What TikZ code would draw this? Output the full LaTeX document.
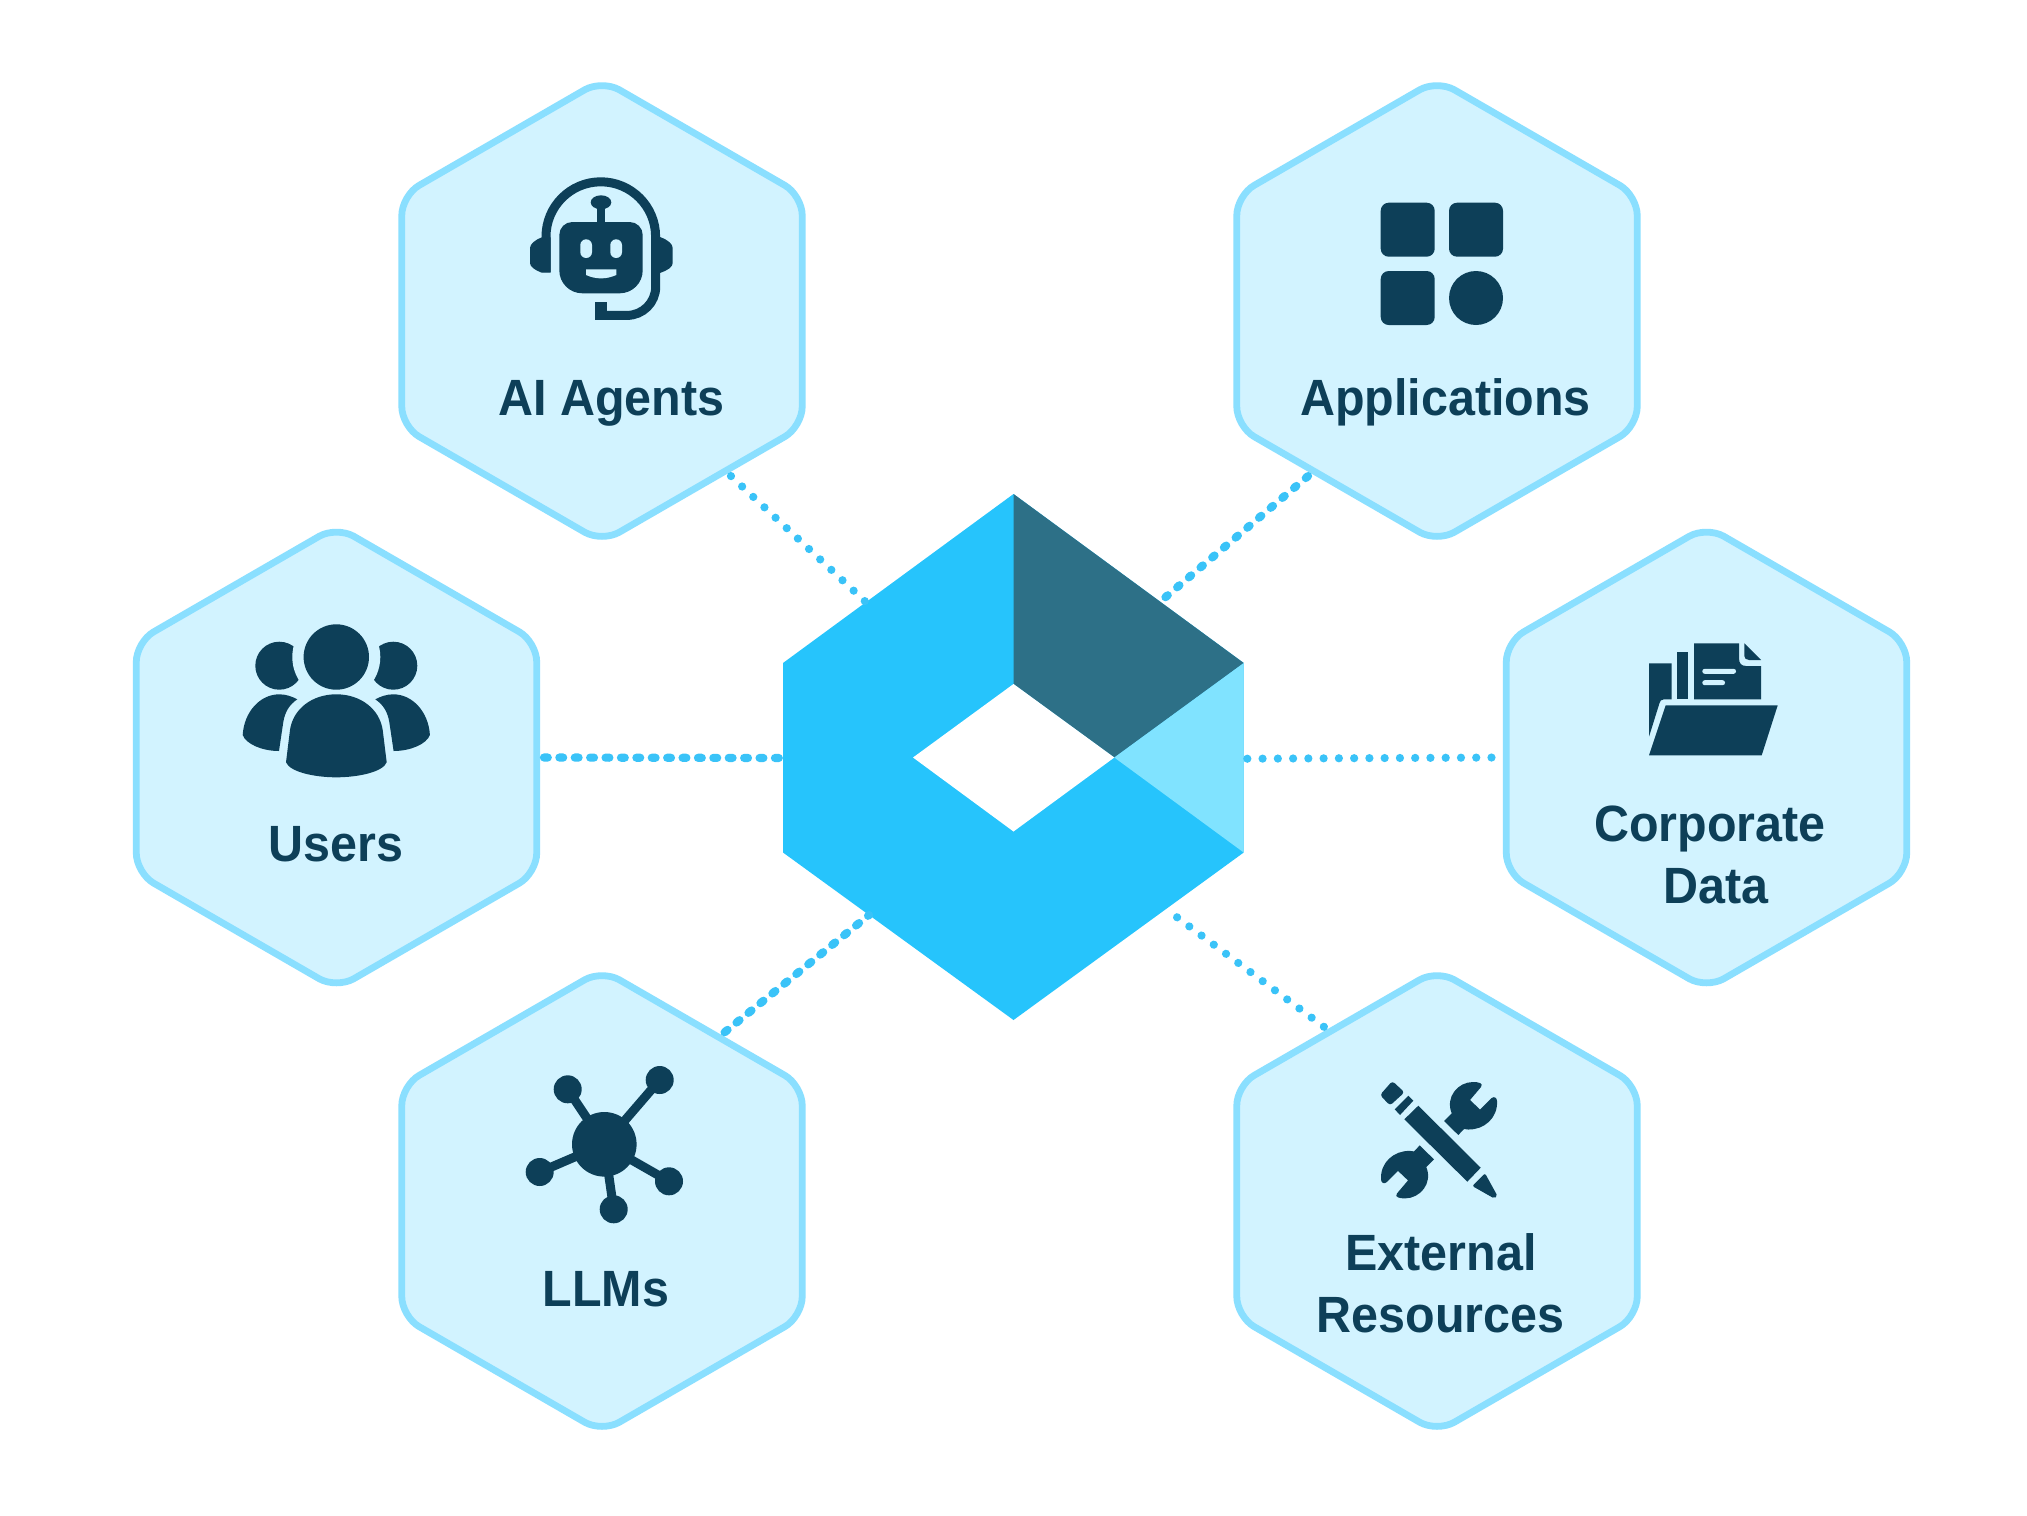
\documentclass[tikz,border=0pt]{standalone}
\usepackage{fontspec}
\setmainfont{Liberation Sans}[BoldFeatures={FakeStretch=0.95}]
\usetikzlibrary{shapes.geometric}
\definecolor{ink}{HTML}{0D3F58}
\definecolor{hexfill}{HTML}{D2F3FF}
\definecolor{hexline}{HTML}{8ADFFF}
\definecolor{corecol}{HTML}{26C4FC}
\definecolor{coredark}{HTML}{2D7087}
\definecolor{corelight}{HTML}{80E3FF}
\definecolor{dotcol}{HTML}{3AC3F8}
\tikzset{
  hexnode/.style={draw=hexline,fill=hexfill,line width=3.4pt,regular polygon,regular polygon sides=6,
    shape border rotate=30,minimum size=231.2pt,inner sep=0pt,outer sep=3.6pt,rounded corners=10pt},
  lbl/.style={anchor=base,inner sep=0pt,text=ink,font=\fontsize{25.5pt}{30pt}\selectfont\bfseries},
  dotline/.style={draw=dotcol,line width=4.1pt,line cap=round,dash pattern=on 0.01pt off 7.62pt},
  dotlinea/.style={dotline,dash pattern=on 1.5pt off 6.17pt},
  dotlineb/.style={dotline,dash pattern=on 1.9pt off 5.8pt},
  ic/.style={fill=ink},
  icb/.style={fill=hexfill},
  icl/.style={draw=ink,line width=4.5pt}
}
\newcommand{\wrenchpath}{(1444,1121) -- (1451.7,1113.3) .. controls (1445,1097) and (1458,1082) .. (1473,1082) .. controls (1478,1082) and (1484,1083) .. (1481,1087) -- (1470,1100) -- (1480,1109.5) -- (1491,1098.5) .. controls (1494,1095.5) and (1497,1098) .. (1497,1101) .. controls (1498,1118) and (1484,1130) .. (1468,1129.5) -- (1464,1129) -- (1458.3,1135) -- cycle}
\begin{document}
\begin{tikzpicture}[x=0.5pt,y=-0.5pt]
\useasboundingbox (0,0) rectangle (2027,1515);
\fill[white] (0,0) rectangle (2027,1515);
% hexagons
\node[hexnode] (ai) at (602,311) {};
\node[hexnode] (apps) at (1437,311) {};
\node[hexnode] (users) at (336.5,757.5) {};
\node[hexnode] (data) at (1706.5,757.5) {};
\node[hexnode] (llm) at (602,1201) {};
\node[hexnode] (ext) at (1437,1201) {};
% core
\fill[corecol] (1013.5,494) -- (1243.7,663) -- (1243.7,852.5) -- (1013.5,1020) -- (783,852.5) -- (783,663) -- cycle;
\fill[coredark] (1013.5,494) -- (1243.7,663) -- (1114.3,757.5) -- (1013.5,684) -- cycle;
\fill[corelight] (1243.7,663) -- (1243.7,852.5) -- (1114.3,757.5) -- cycle;
\fill[white] (1013.5,684) -- (913,757.5) -- (1013.5,831.5) -- (1114.3,757.5) -- cycle;
\coordinate (core-ai) at (866.5,602.7);
\coordinate (core-apps) at (1164.5,598);
\coordinate (core-users) at (780,758);
\coordinate (core-data) at (1247.3,758.7);
\coordinate (core-llm) at (869,915);
\coordinate (core-ext) at (1172,913.5);
% connectors
\draw[dotline] (ai.-52.6) -- (core-ai);
\draw[dotlinea] (apps.-128.95) -- (core-apps);
\draw[dotlineb] (users.east) -- (core-users);
\draw[dotline] (core-data) -- (data.west);
\draw[dotlineb] (llm.54.2) -- (core-llm);
\draw[dotline] (ext.123.6) -- (core-ext);
% labels
\node[lbl] (t-ai) at (611.3,415) {AI Agents};
\node[lbl] (t-apps) at (1445.5,415) {Applications};
\node[lbl] (t-users) at (336,861) {Users};
\node[lbl] (t-corp) at (1710,841) {Corporate};
\node[lbl] (t-data) at (1715.8,903.3) {Data};
\node[lbl] (t-llm) at (606,1306) {LLMs};
\node[lbl] (t-ext) at (1441,1270) {External};
\node[lbl] (t-res) at (1440.5,1332) {Resources};
% robot icon
\draw[icl] (546,272) -- (546,236.6) arc[start angle=180,end angle=360,radius=54.8] -- (655.7,286.7) arc[start angle=0,end angle=90,radius=28.7] -- (600,315.3);
\fill[ic] (595,302.3) rectangle (606.7,320);
\fill[ic] (541.7,237.3) .. controls (535,240) and (530,244) .. (530,248) -- (530,263) .. controls (530,267) and (535,270) .. (541.7,272.7) -- (550.7,272.7) -- (550.7,237.3) -- cycle;
\fill[ic] (658,236.5) -- (660.7,237.3) .. controls (668,240) and (672.7,244) .. (672.7,248) -- (672.7,263) .. controls (672.7,267) and (668,270) .. (660.7,272.7) -- (658,273.5) -- cycle;
\fill[ic] (572.3,222) -- (629.7,222) arc[start angle=-90,end angle=0,radius=13] -- (642.7,270.3) arc[start angle=0,end angle=90,radius=23] -- (582.3,293.3) arc[start angle=90,end angle=180,radius=23] -- (559.3,235) arc[start angle=180,end angle=270,radius=13] -- cycle;
\fill[ic] (597,205) rectangle (605.3,222);
\fill[ic] (601,202.3) ellipse [x radius=10.3,y radius=7];
\fill[icb,rounded corners=2.9pt] (580.3,239.3) rectangle (592,258);
\fill[icb,rounded corners=2.9pt] (610.3,239.3) rectangle (622,258);
\fill[icb] (586,269.3) -- (616.3,269.3) -- (616.3,275) .. controls (606,279.5) and (596,279.5) .. (586,275) -- cycle;
% apps icon
\fill[ic,rounded corners=4pt] (1380.7,202.7) rectangle (1434.7,256.7);
\fill[ic,rounded corners=4pt] (1449,202.7) rectangle (1503,256.7);
\fill[ic,rounded corners=4pt] (1380.7,271) rectangle (1434.7,325);
\fill[ic] (1476,298) circle [radius=27];
% users icon
\fill[ic] (279.3,665.7) circle [radius=24];
\fill[ic] (393.3,665.7) circle [radius=24];
\fill[icb] (336.3,657) circle [radius=44];
\fill[ic] (336.3,657) circle [radius=32.7];
\fill[ic] (286,762.3) -- (290,730) .. controls (293,709) and (312,694.3) .. (336.3,694.3) .. controls (360.6,694.3) and (379.6,709) .. (382.7,730) -- (386.7,762.3) .. controls (383,772) and (358,777.3) .. (336.3,777.3) .. controls (314.6,777.3) and (290,772) .. (286,762.3) -- cycle;
\fill[ic] (242.7,735) .. controls (244,712) and (260,694.3) .. (279.3,694.3) .. controls (286,694.3) and (292,696.5) .. (297.3,699.3) .. controls (289,705) and (285,712) .. (283.3,722) -- (279,751) .. controls (262,751) and (246,744) .. (242.7,735) -- cycle;
\fill[ic] (429.9,735) .. controls (428.6,712) and (412.6,694.3) .. (393.3,694.3) .. controls (386.6,694.3) and (380.6,696.5) .. (375.3,699.3) .. controls (383.6,705) and (387.6,712) .. (389.3,722) -- (393.6,751) .. controls (410.6,751) and (426.6,744) .. (429.9,735) -- cycle;
% folder icon
\fill[ic] (1649,663.3) -- (1671.7,663.3) -- (1671.7,699.3) -- (1664,699.3) .. controls (1661,699.3) and (1660,701) .. (1659.5,703) -- (1649,736.7) -- cycle;
\fill[ic] (1677,652) rectangle (1688.3,699.3);
\fill[ic] (1694,643.3) -- (1739,643.3) -- (1739,658) .. controls (1739,663) and (1741,666) .. (1746,666) -- (1761,666) -- (1761,699.3) -- (1694,699.3) -- cycle;
\fill[ic] (1744.3,643.3) -- (1761,660) -- (1749,660) .. controls (1746,660) and (1744.3,658) .. (1744.3,656) -- cycle;
\fill[icb,rounded corners=1.2pt] (1702.3,668.8) rectangle (1736,673.8);
\fill[icb,rounded corners=1.2pt] (1702.3,680.2) rectangle (1725,685.2);
\fill[ic] (1665.7,705.3) -- (1777.7,705.3) -- (1761.7,755.3) -- (1649,755.3) -- cycle;
% LLM icon
\draw[icl] (604.3,1144.3) -- (567.7,1089.3);
\draw[icl] (604.3,1144.3) -- (659.7,1080);
\draw[icl] (604.3,1144.3) -- (539.7,1172);
\draw[icl] (604.3,1144.3) -- (669,1181.3);
\draw[icl] (604.3,1144.3) -- (613.7,1209.3);
\fill[ic] (604.3,1144.3) circle [radius=32.3];
\fill[ic] (567.7,1089.3) circle [radius=14];
\fill[ic] (659.7,1080) circle [radius=14];
\fill[ic] (539.7,1172) circle [radius=14];
\fill[ic] (669,1181.3) circle [radius=14];
\fill[ic] (613.7,1209.3) circle [radius=14];
% tools icon
\fill[ic] \wrenchpath;
\begin{scope}[rotate around={180:(1439,1140.2)}]
\fill[ic] \wrenchpath;
\end{scope}
\fill[ic] (1418.3,1105.7) -- (1480.7,1167.7) -- (1467.3,1181.7) -- (1404.3,1119.3) -- cycle;
\fill[ic,rounded corners=1pt] (1485,1173.3) -- (1497.5,1196) -- (1494.3,1198.5) -- (1472.3,1186) -- cycle;
\fill[ic] (1408.3,1095.7) -- (1413.3,1100.7) -- (1400,1115) -- (1394.7,1109.3) -- cycle;
\fill[ic,rounded corners=1.5pt] (1392.3,1081) -- (1404.5,1092.3) -- (1390,1105.5) -- (1380,1095) -- cycle;
\end{tikzpicture}
\end{document}
